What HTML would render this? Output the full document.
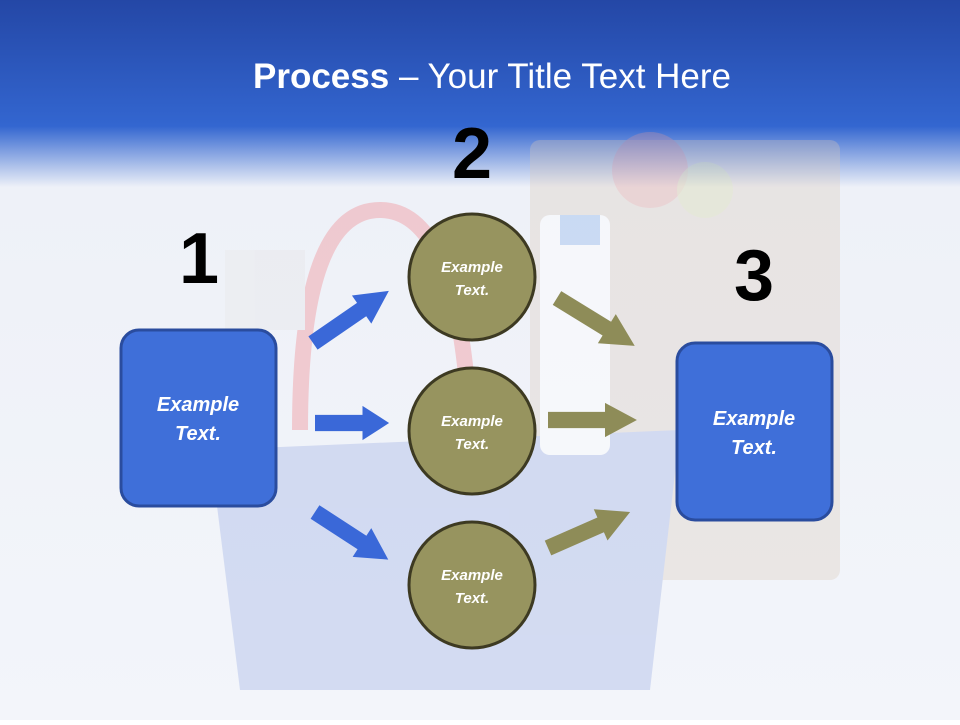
<!DOCTYPE html>
<html><head><meta charset="utf-8"><style>
html,body{margin:0;padding:0}
body{width:960px;height:720px;overflow:hidden;font-family:"Liberation Sans",sans-serif}
</style></head><body>
<svg width="960" height="720" xmlns="http://www.w3.org/2000/svg">
<defs>
<linearGradient id="bg" x1="0" y1="0" x2="0" y2="1">
<stop offset="0" stop-color="#2447a6"/>
<stop offset="0.175" stop-color="#3366d0"/>
<stop offset="0.26" stop-color="#eef1f8"/>
<stop offset="1" stop-color="#f3f5fa"/>
</linearGradient>
<g id="arr"><polygon points="0,-9 50,-9 50,-19 78,0 50,19 50,9 0,9"/></g>
</defs>
<rect width="960" height="720" fill="url(#bg)"/>
<g opacity="0.45">
<rect x="530" y="140" width="310" height="440" rx="10" fill="#d9c7b8" opacity="0.7"/>
<circle cx="650" cy="170" r="38" fill="#e89a9a" opacity="0.6"/>
<circle cx="705" cy="190" r="28" fill="#d8e0a8" opacity="0.6"/>
<path d="M210 450 L680 430 L650 690 L240 690 Z" fill="#aebde8"/>
<path d="M300 430 Q300 210 380 210 Q460 210 470 430" fill="none" stroke="#f09aa0" stroke-width="16"/>
<rect x="540" y="215" width="70" height="240" rx="10" fill="#ffffff"/>
<rect x="560" y="215" width="40" height="30" fill="#9ec0ee"/>
<rect x="225" y="250" width="80" height="80" fill="#e8e8ea"/>
</g>
<text x="492" y="88" text-anchor="middle" fill="#fff" font-size="35"><tspan font-weight="bold">Process</tspan> – Your Title Text Here</text>
<text x="472" y="178" text-anchor="middle" font-size="72" font-weight="bold" fill="#000">2</text>
<text x="199" y="283" text-anchor="middle" font-size="72" font-weight="bold" fill="#000">1</text>
<text x="754" y="300" text-anchor="middle" font-size="72" font-weight="bold" fill="#000">3</text>
<g fill="#3a68d8">
<use href="#arr" transform="translate(313,343) rotate(-34.5) scale(1.18,0.9)"/>
<use href="#arr" transform="translate(315,423) scale(0.95,0.9)"/>
<use href="#arr" transform="translate(315,512) rotate(33) scale(1.12,0.9)"/>
</g>
<g fill="#8e8c58">
<use href="#arr" transform="translate(557,298) rotate(31.6) scale(1.17,0.9)"/>
<use href="#arr" transform="translate(548,420) scale(1.14,0.9)"/>
<use href="#arr" transform="translate(548,548) rotate(-23.7) scale(1.15,0.9)"/>
</g>
<rect x="121" y="330" width="155" height="176" rx="18" fill="#3f6fd9" stroke="#2a4c9e" stroke-width="3"/>
<rect x="677" y="343" width="155" height="177" rx="18" fill="#3f6fd9" stroke="#2a4c9e" stroke-width="3"/>
<g fill="#fff" font-weight="bold" font-style="italic" font-size="20" text-anchor="middle">
<text x="198" y="411">Example</text><text x="198" y="440">Text.</text>
<text x="754" y="425">Example</text><text x="754" y="454">Text.</text>
</g>
<g fill="#97945f" stroke="#3d3a22" stroke-width="3">
<circle cx="472" cy="277" r="63"/>
<circle cx="472" cy="431" r="63"/>
<circle cx="472" cy="585" r="63"/>
</g>
<g fill="#fff" font-weight="bold" font-style="italic" font-size="15" text-anchor="middle">
<text x="472" y="272">Example</text><text x="472" y="295">Text.</text>
<text x="472" y="426">Example</text><text x="472" y="449">Text.</text>
<text x="472" y="580">Example</text><text x="472" y="603">Text.</text>
</g>
</svg>
</body></html>
